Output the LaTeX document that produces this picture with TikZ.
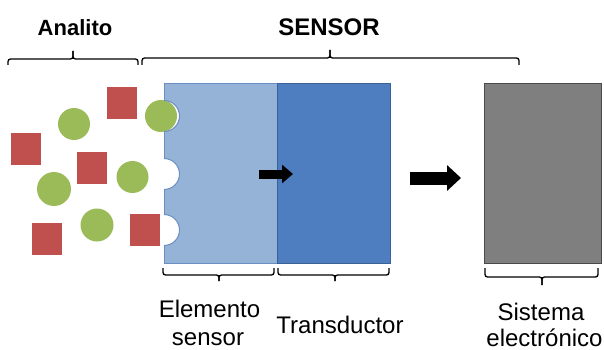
\documentclass[tikz,border=0pt]{standalone}
\usepackage{fontspec}
\setmainfont{Liberation Sans}
\usetikzlibrary{arrows.meta}
\definecolor{lblue}{HTML}{95B3D7}
\definecolor{lblueb}{HTML}{6A8FC0}
\definecolor{dblue}{HTML}{4F7EC0}
\definecolor{dblueb}{HTML}{3A6296}
\definecolor{gfill}{HTML}{7F7F7F}
\definecolor{gborder}{HTML}{4A4A4A}
\definecolor{rsq}{HTML}{C0504D}
\definecolor{gci}{HTML}{9BBB59}
\tikzset{
  box/.style={rectangle, inner sep=0pt, minimum width=113pt, minimum height=179pt, line width=1pt},
  sq/.style={rectangle, inner sep=0pt, minimum width=30pt, minimum height=32pt, fill=rsq},
  ci/.style={circle, inner sep=0pt, minimum size=32pt, fill=gci},
  brace/.style={draw=black, line width=1.3pt, rounded corners=2.5pt},
  lbl/.style={anchor=base, inner sep=0pt, font=\fontsize{24}{28}\selectfont},
  ttl/.style={anchor=base, inner sep=0pt, font=\bfseries\fontsize{22}{26}\selectfont},
  fat/.style={line width=#1},
}
\begin{document}
\begin{tikzpicture}[x=1pt,y=-1pt]
\useasboundingbox (0,0) rectangle (604,350);
% boxes
\node[box, fill=lblue, draw=lblueb] (elem) at (220.5,173.5) {};
\node[box, fill=dblue, draw=dblueb] (trans) at (333.5,173.5) {};
\node[box, minimum width=117pt, fill=gfill, draw=gborder] (sist) at (542.5,173.5) {};
% notches
\foreach \n/\y in {1/116,2/174,3/230} {
  \fill[white] (164,\y) circle (15.5);
}
% analyte
\node[sq] (s1) at (121.5,103) {};
\node[sq] (s2) at (26,148.5) {};
\node[sq] (s3) at (92,168) {};
\node[sq] (s4) at (47,239) {};
\node[sq] (s5) at (145,230) {};
\node[ci] (c1) at (74,124) {};
\node[ci] (c2) at (161,116) {};
\node[ci, minimum size=34pt] (c3) at (54,189) {};
\node[ci] (c4) at (132.5,177) {};
\node[ci, minimum size=33pt] (c5) at (97,225) {};
\foreach \y in {116,174,230} {
  \draw[lblueb, line width=1pt] (164,\y-15.5) arc[start angle=-90, end angle=90, radius=15.5];
}
% arrows
\coordinate (a1s) at (259,174);
\coordinate (a1e) at (293,174);
\coordinate (a2s) at (410,178);
\coordinate (a2e) at (461,178);
\draw[fat=9pt, -{Triangle[length=11pt,width=18pt]}] (a1s) -- (a1e);
\draw[fat=13pt, -{Triangle[length=14pt,width=25pt]}] (a2s) -- (a2e);
% top braces
\draw[brace] (8,65) |- (73,59) -- (73,51);
\draw[brace] (73,51) -- (73,59) -| (138,65);
\draw[brace] (142,65) |- (330,58) -- (330,50);
\draw[brace] (330,50) -- (330,58) -| (519,65);
% bottom braces
\draw[brace] (163,268) |- (219,275) -- (219,281);
\draw[brace] (219,281) -- (219,275) -| (274,268);
\draw[brace] (278,268) |- (335,275) -- (335,281);
\draw[brace] (335,281) -- (335,275) -| (389,268);
\draw[brace] (485,268) |- (542,277) -- (542,285);
\draw[brace] (542,285) -- (542,277) -| (598,268);
% labels
\node[ttl] (tanal) at (75,36) {Analito};
\node[ttl, font=\bfseries\fontsize{24}{28}\selectfont] (tsens) at (329,36) {SENSOR};
\node[lbl] (tel1) at (209.5,317) {Elemento};
\node[lbl] (tel2) at (208,345) {sensor};
\node[lbl] (ttr) at (340,333) {Transductor};
\node[lbl] (tsi1) at (541,320) {Sistema};
\node[lbl] (tsi2) at (544.5,346) {electrónico};
\end{tikzpicture}
\end{document}
